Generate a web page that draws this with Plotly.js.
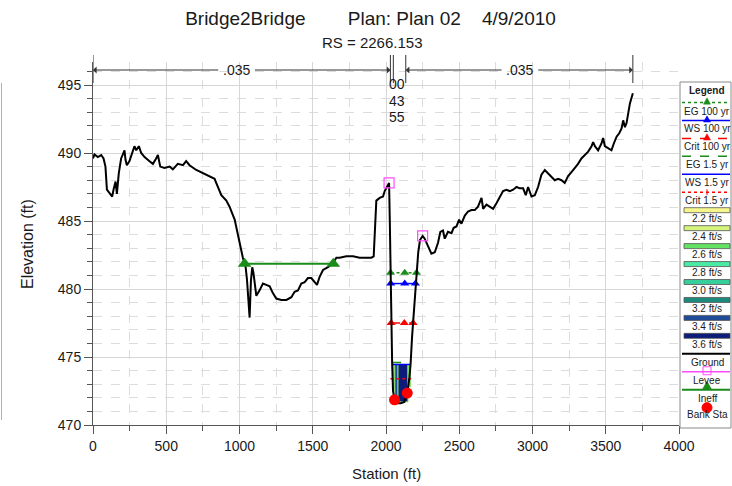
<!DOCTYPE html>
<html>
<head>
<meta charset="utf-8">
<script src="https://cdn.plot.ly/plotly-3.0.1.min.js"></script>
<style>
  html, body { margin: 0; padding: 0; background: #fff; }
  #chart { width: 732px; height: 486px; }
</style>
</head>
<body>
<div id="chart"></div>
<script>
// Cross section RS 2266.153 - ground profile (station ft, elevation ft)
const groundSta = [0,10,33,56,72,85,95,117,131,140,154,163,176,192,204,215,222,231,249,268,283,295,313,329,352,386,409,431,443,459,488,523,545,579,614,636,659,705,750,796,830,841,876,910,932,967,989,1005,1023,1042,1051,1060,1069,1078,1087,1095,1103,1115,1137,1160,1183,1206,1228,1251,1285,1320,1354,1376,1399,1422,1445,1467,1490,1513,1529,1547,1570,1604,1638,1661,1684,1729,1775,1820,1866,1900,1916,1923,1934,1957,1980,1991,2003,2021,2026,2030,2036,2042,2048,2058,2075,2100,2125,2145,2160,2168,2178,2188,2198,2210,2220,2232,2250,2264,2276,2290,2310,2333,2355,2371,2389,2401,2423,2447,2462,2481,2499,2515,2538,2560,2583,2606,2628,2652,2663,2686,2708,2731,2754,2777,2799,2822,2845,2868,2891,2913,2936,2954,2970,2993,3016,3038,3061,3084,3106,3129,3152,3175,3198,3220,3243,3266,3289,3311,3334,3357,3380,3403,3414,3426,3448,3471,3482,3494,3516,3539,3555,3574,3592,3608,3619,3631,3642,3653,3665,3685];
const groundElev = [489.6,489.9,489.7,489.85,489.6,489.0,487.3,487.0,486.8,487.3,487.9,487.0,488.5,489.6,490.0,490.2,489.5,489.1,489.4,490.0,490.5,490.2,490.5,490.0,489.7,489.4,489.2,489.6,489.85,489.0,488.9,489.0,488.8,489.2,489.1,489.4,489.1,488.75,488.5,488.3,488.1,487.8,486.9,486.5,486.05,485.1,484.1,483.2,482.3,481.6,480.7,479.6,477.9,480.6,481.6,481.2,480.4,479.5,479.9,480.4,480.3,480.2,479.7,479.3,479.2,479.2,479.4,479.8,479.9,480.4,480.5,480.8,480.8,480.5,480.3,480.9,481.4,481.6,481.9,482.3,482.3,482.4,482.4,482.3,482.3,482.3,482.4,484.1,486.5,486.7,486.8,487.2,487.4,487.8,485.0,482.0,478.0,474.5,472.5,471.85,471.6,471.6,471.7,472.35,473.5,474.5,476.5,478.0,480.0,481.5,482.7,483.6,483.9,483.7,483.4,483.0,482.6,482.7,483.4,484.2,484.3,483.7,484.2,484.1,484.5,484.6,485.1,484.8,485.4,485.7,485.8,485.8,486.05,486.7,485.9,486.2,486.05,485.9,486.3,486.8,487.2,487.3,487.2,487.3,487.5,487.4,487.4,486.9,487.5,486.8,486.9,487.5,488.4,488.75,488.5,488.3,488.0,488.1,488.0,487.8,488.3,488.6,488.9,489.2,489.6,489.85,490.1,490.5,490.8,490.5,490.2,490.7,491.1,490.5,490.35,490.2,490.7,491.2,491.45,491.8,492.4,491.9,492.2,492.9,493.65,494.4];

// Water surface profiles
const profileNames = ['EG 100 yr', 'WS 100 yr', 'Crit 100 yr', 'EG 1.5 yr', 'WS 1.5 yr', 'Crit 1.5 yr'];
const profileElev  = [481.2, 480.4, 477.5, 474.6, 474.45, 473.4];
const profileLeft  = [2031, 2032, 2035, 2042, 2043, 2030];
const profileMid   = [2128, 2128, 2125, null, null, null];
const profileRight = [2208, 2201, 2185, 2168, 2167, 2172];

// Velocity distribution for the 1.5 yr profile (slices)
const velLeft   = [2044, 2060, 2082, 2150];
const velRight  = [2060, 2082, 2150, 2167];
const velBottom = [472.6, 471.9, 471.7, 472.8];
const velTop    = 474.45;
const velValue  = [2.6, 3.4, 3.6, 2.6];
const velClasses = [2.2, 2.4, 2.6, 2.8, 3.0, 3.2, 3.4, 3.6];

// Levees, bank stations, ineffective flow area
const leveeSta = [2021, 2250];
const leveeElev = [487.8, 483.9];
const bankSta = [2058, 2145];
const bankElev = [471.85, 472.35];
const ineffSta = [1035, 1640];
const ineffElev = [481.85, 481.85];

// Manning's n regions
const nBreakSta = [0, 2030, 2050, 2135, 3685];
const nSegStart = [0, 2135];
const nSegEnd = [2030, 3685];
const nSegLabel = ['.035', '.035'];
const nSegLabelSta = [980, 2914];
const nSegGap = [115, 115];
const nChannelLabels = ['00', '43', '55'];
const nChannelSta = 2072;

// ---- styling ----
const FONT = 'Arial, "Liberation Sans", sans-serif';
const TXT = '#1a1a1a';
const velColors = ['#f6f68c', '#d4f47e', '#64e264', '#48eaa4', '#36ce9a', '#1c8a7c', '#1e4c98', '#0c1c78'];
const styles = [
  { color: '#1a8c1a', dash: 'dot',   marker: true },
  { color: '#0000ff', dash: 'solid', marker: true },
  { color: '#ff0000', dash: 'dash',  marker: true },
  { color: '#1a8c1a', dash: 'dash',  marker: false },
  { color: '#0000ff', dash: 'solid', marker: false },
  { color: '#ff0000', dash: 'dot',   marker: false }
];

// plot area in pixels
const L = 93, T = 62, W = 586, H = 363;
const PX = px => (px - L) / W;
const PY = py => (T + H - py) / H;

const traces = [];

// velocity slices
traces.push({
  type: 'bar',
  x: velLeft.map((a, i) => (a + velRight[i]) / 2),
  width: velLeft.map((a, i) => velRight[i] - a),
  base: velBottom,
  y: velBottom.map(b => velTop - b),
  marker: {
    color: velValue.map(v => velColors[velClasses.indexOf(v)]),
    line: { color: '#8ee06a', width: 1 }
  },
  hoverinfo: 'skip', showlegend: false
});

// water surface lines (1.5 yr first, 100 yr on top)
[4, 3, 5, 2, 1, 0].forEach(i => {
  const xs = profileMid[i] === null ? [profileLeft[i], profileRight[i]] : [profileLeft[i], profileMid[i], profileRight[i]];
  traces.push({
    type: 'scatter',
    mode: styles[i].marker ? 'lines+markers' : 'lines',
    x: xs, y: xs.map(() => profileElev[i]),
    line: { color: styles[i].color, width: 1.5, dash: styles[i].dash },
    marker: { symbol: 'triangle-up', size: 8, color: styles[i].color },
    name: profileNames[i], showlegend: false, hoverinfo: 'skip'
  });
});

// ground
traces.push({
  type: 'scatter', mode: 'lines', x: groundSta, y: groundElev,
  line: { color: '#000', width: 2 }, name: 'Ground', showlegend: false, hoverinfo: 'skip'
});

// ineffective flow
traces.push({
  type: 'scatter', mode: 'lines+markers', x: ineffSta, y: ineffElev,
  line: { color: '#1a8c1a', width: 2 },
  marker: { symbol: 'triangle-up', size: 12, color: '#1a8c1a' },
  name: 'Ineff', showlegend: false, hoverinfo: 'skip'
});

// levees
traces.push({
  type: 'scatter', mode: 'markers', x: leveeSta, y: leveeElev,
  marker: { symbol: 'square-open', size: 10, color: '#ff4cff', line: { width: 1.2 } },
  name: 'Levee', showlegend: false, hoverinfo: 'skip'
});

// bank stations
traces.push({
  type: 'scatter', mode: 'markers', x: bankSta, y: bankElev,
  marker: { symbol: 'circle', size: 11, color: '#ff0000' },
  name: 'Bank Sta', showlegend: false, hoverinfo: 'skip'
});

const shapes = [];
const annotations = [];

// Manning's n region bars
nBreakSta.forEach(s => {
  shapes.push({ type: 'line', xref: 'x', yref: 'paper', x0: s, x1: s, y0: PY(83), y1: PY(55),
    line: { color: '#333', width: 1 } });
});
nSegStart.forEach((s, i) => {
  const mid = nSegLabelSta[i], gap = nSegGap[i];
  [[mid - gap, s], [mid + gap, nSegEnd[i]]].forEach(([tail, head]) => {
    annotations.push({ xref: 'x', yref: 'paper', x: head, y: PY(70), axref: 'x', ayref: 'pixel',
      ax: tail, ay: 0, text: '', showarrow: true, arrowhead: 1, arrowsize: 1.2, arrowwidth: 1,
      arrowcolor: '#333', standoff: 0, startstandoff: 0 });
  });
  annotations.push({ xref: 'x', yref: 'paper', x: mid, y: PY(70), text: nSegLabel[i], showarrow: false,
    font: { family: FONT, size: 14, color: TXT }, xanchor: 'center', yanchor: 'middle' });
});
nChannelLabels.forEach((t, i) => {
  annotations.push({ xref: 'x', yref: 'paper', x: nChannelSta, y: PY(84 + i * 16.5), text: t, showarrow: false,
    font: { family: FONT, size: 14, color: TXT }, xanchor: 'center', yanchor: 'middle' });
});

// subtitle and axis titles
annotations.push({ xref: 'paper', yref: 'paper', x: PX(372.5), y: PY(42), text: 'RS = 2266.153', showarrow: false,
  font: { family: FONT, size: 15, color: TXT }, xanchor: 'center', yanchor: 'middle' });
annotations.push({ xref: 'paper', yref: 'paper', x: PX(386), y: PY(473), text: 'Station (ft)', showarrow: false,
  font: { family: FONT, size: 15, color: TXT }, xanchor: 'center', yanchor: 'middle' });
annotations.push({ xref: 'paper', yref: 'paper', x: PX(28), y: PY(244), text: 'Elevation (ft)', showarrow: false,
  textangle: -90, font: { family: FONT, size: 16, color: TXT }, xanchor: 'center', yanchor: 'middle' });

// partial frame at the far left
shapes.push({ type: 'line', xref: 'paper', yref: 'paper', x0: PX(1.5), x1: PX(1.5), y0: PY(420), y1: PY(83),
  line: { color: '#b0b0b0', width: 1 } });

// ---- legend panel ----
const LX0 = 680, LX1 = 731, LCX = 707;
shapes.push({ type: 'rect', xref: 'paper', yref: 'paper', x0: PX(LX0), x1: PX(LX1), y0: PY(428), y1: PY(82),
  fillcolor: '#fff', line: { color: '#8a8a8a', width: 1 }, layer: 'above' });
annotations.push({ xref: 'paper', yref: 'paper', x: PX(LCX), y: PY(90.5), text: '<b>Legend</b>', showarrow: false,
  font: { family: FONT, size: 10, color: TXT }, xanchor: 'center', yanchor: 'middle' });

const tri = (cx, cy, s) => {
  const h = s * 0.9;
  return 'M' + PX(cx - s / 2) + ',' + PY(cy + h / 2) + ' L' + PX(cx + s / 2) + ',' + PY(cy + h / 2) +
    ' L' + PX(cx) + ',' + PY(cy - h / 2) + ' Z';
};
const legendRows = [];
profileNames.forEach((n, i) => legendRows.push({ name: n, kind: 'line', color: styles[i].color, dash: styles[i].dash,
  mark: styles[i].marker ? 'tri' : (i === 5 ? 'tick' : null) }));
velClasses.forEach((v, i) => legendRows.push({ name: v.toFixed(1) + ' ft/s', kind: 'swatch', color: velColors[i] }));
legendRows.push({ name: 'Ground', kind: 'line', color: '#000', dash: 'solid', width: 2 });
legendRows.push({ name: 'Levee', kind: 'line', color: '#ff4cff', dash: 'solid', mark: 'square' });
legendRows.push({ name: 'Ineff', kind: 'line', color: '#1a8c1a', dash: 'solid', width: 2, mark: 'triUp' });
legendRows.push({ name: 'Bank Sta', kind: 'dot' });

const LFONT = { family: FONT, size: 10, color: TXT };
legendRows.forEach((r, i) => {
  const sy = 102.5 + i * 17.95;
  if (r.kind === 'line') {
    shapes.push({ type: 'line', xref: 'paper', yref: 'paper', x0: PX(LX0 + 2), x1: PX(LX1 - 1), y0: PY(sy), y1: PY(sy),
      line: { color: r.color, width: r.width || 1.5, dash: r.dash }, layer: 'above' });
    if (r.mark === 'tri') {
      shapes.push({ type: 'path', xref: 'paper', yref: 'paper', path: tri(LCX, sy - 1.5, 7), fillcolor: r.color,
        line: { color: r.color, width: 0.5 }, layer: 'above' });
    } else if (r.mark === 'tick') {
      shapes.push({ type: 'line', xref: 'paper', yref: 'paper', x0: PX(LCX), x1: PX(LCX), y0: PY(sy - 3), y1: PY(sy + 3),
        line: { color: r.color, width: 1 }, layer: 'above' });
    } else if (r.mark === 'square') {
      shapes.push({ type: 'rect', xref: 'paper', yref: 'paper', x0: PX(LCX - 4), x1: PX(LCX + 4), y0: PY(sy + 3), y1: PY(sy - 5),
        line: { color: r.color, width: 1 }, layer: 'above' });
    } else if (r.mark === 'triUp') {
      shapes.push({ type: 'path', xref: 'paper', yref: 'paper', path: tri(LCX, sy - 4.5, 9), fillcolor: r.color,
        line: { color: r.color, width: 0.5 }, layer: 'above' });
    }
    annotations.push({ xref: 'paper', yref: 'paper', x: PX(LCX), y: PY(sy + 8.5), text: r.name, showarrow: false,
      font: LFONT, xanchor: 'center', yanchor: 'middle' });
  } else if (r.kind === 'swatch') {
    shapes.push({ type: 'rect', xref: 'paper', yref: 'paper', x0: PX(LX0 + 4), x1: PX(LX1 - 1), y0: PY(sy + 2.5), y1: PY(sy - 2.5),
      fillcolor: r.color, line: { color: '#555', width: 0.8 }, layer: 'above' });
    annotations.push({ xref: 'paper', yref: 'paper', x: PX(LCX), y: PY(sy + 8.5), text: r.name, showarrow: false,
      font: LFONT, xanchor: 'center', yanchor: 'middle' });
  } else {
    shapes.push({ type: 'circle', xref: 'paper', yref: 'paper', x0: PX(LCX - 5), x1: PX(LCX + 5), y0: PY(sy + 5), y1: PY(sy - 5),
      fillcolor: '#ff0000', line: { color: '#ff0000', width: 1 }, layer: 'above' });
    annotations.push({ xref: 'paper', yref: 'paper', x: PX(LCX), y: PY(sy + 7), text: r.name, showarrow: false,
      font: LFONT, xanchor: 'center', yanchor: 'middle' });
  }
});

const sp = n => '\u00a0'.repeat(n);
const layout = {
  width: 732, height: 486,
  margin: { l: L, r: 732 - L - W, t: T, b: 486 - T - H, pad: 0 },
  paper_bgcolor: '#fff', plot_bgcolor: '#fff',
  font: { family: FONT, color: TXT },
  title: {
    text: 'Bridge2Bridge' + sp(8) + 'Plan: Plan 02' + sp(4) + '4/9/2010',
    font: { family: FONT, size: 19, color: TXT },
    xref: 'container', yref: 'container', x: 370.5 / 732, y: 1 - 18 / 486, xanchor: 'center', yanchor: 'middle'
  },
  showlegend: false,
  barmode: 'overlay',
  xaxis: {
    range: [0, 4000], tick0: 0, dtick: 500, ticks: 'outside', ticklen: 8, tickcolor: '#555', tickwidth: 1,
    showline: true, linecolor: '#555', linewidth: 1, zeroline: false,
    showgrid: true, gridcolor: '#d6d6d6', gridwidth: 1,
    tickfont: { family: FONT, size: 14, color: TXT },
    minor: { dtick: 250, ticks: 'outside', ticklen: 5, tickcolor: '#555', showgrid: true, gridcolor: '#dcdcdc', griddash: 'dash' }
  },
  yaxis: {
    range: [470, 470 + H / 13.6], tick0: 470, dtick: 5, ticks: 'outside', ticklen: 8, tickcolor: '#555', tickwidth: 1,
    showline: true, linecolor: '#555', linewidth: 1, zeroline: false,
    showgrid: true, gridcolor: '#d6d6d6', gridwidth: 1,
    tickfont: { family: FONT, size: 14, color: TXT },
    minor: { dtick: 1, ticks: 'outside', ticklen: 5, tickcolor: '#555', showgrid: true, gridcolor: '#dcdcdc', griddash: 'dash' }
  },
  shapes: shapes,
  annotations: annotations
};

Plotly.newPlot('chart', traces, layout, { staticPlot: true, displayModeBar: false });
</script>
</body>
</html>
